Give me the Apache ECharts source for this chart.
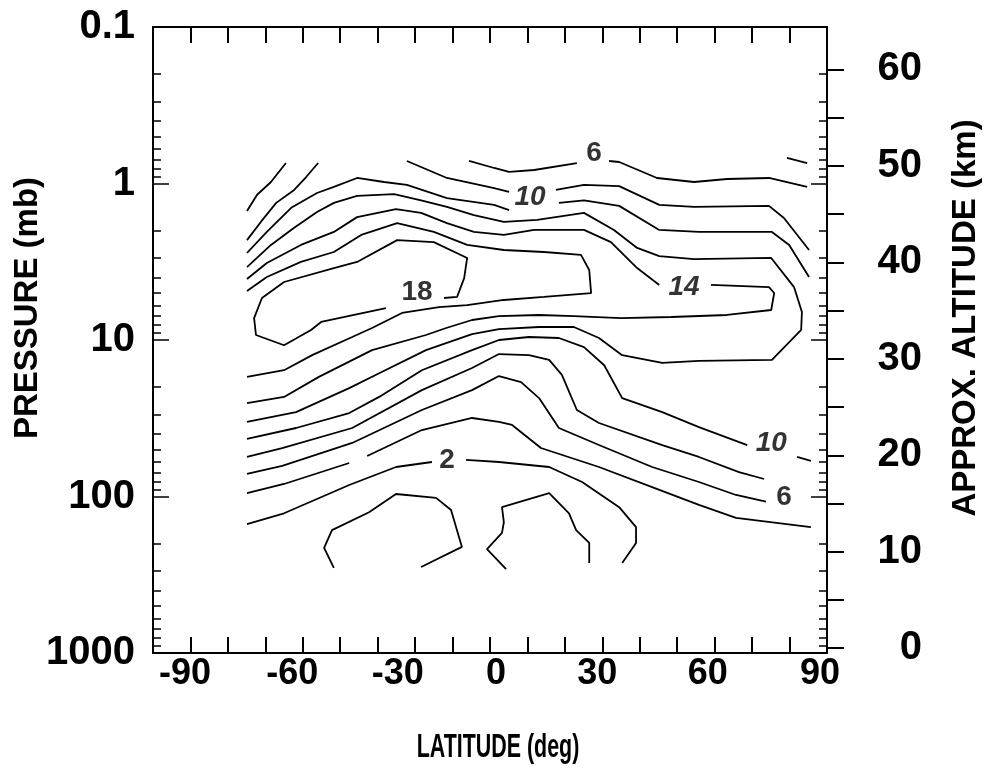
<!DOCTYPE html>
<html>
<head>
<meta charset="utf-8">
<title>Latitude / pressure contours</title>
<script src="https://cdn.jsdelivr.net/npm/echarts@6.0.0/dist/echarts.min.js"></script>
<style>
  html, body { margin: 0; padding: 0; background: #fff; }
  #chart { width: 984px; height: 775px; }
</style>
</head>
<body>
<div id="chart"></div>
<script>
// axis ticks and labels
var latLabels = [-90, -60, -30, 0, 30, 60, 90];
var altitudeLabels = [0, 10, 20, 30, 40, 50, 60];
var altitudeTicks = [0, 5, 10, 15, 20, 25, 30, 35, 40, 45, 50, 55, 60];

// contour pieces, each point is [latitude (deg), pressure (mb)]
var c4Top = [[79.3, 0.687], [84.7, 0.740]];
var c6TopLeft = [[-64.9, 1.50], [-62.2, 1.18], [-58.5, 0.978], [-54.5, 0.740]];
var c6TopA = [[-5.6, 0.718], [1.1, 0.796], [5.1, 0.844], [11.8, 0.820], [23.2, 0.740]];
var c6TopB = [[31.8, 0.718], [34.5, 0.729], [44.6, 0.922], [54.5, 0.978], [63.3, 0.936], [74.5, 0.922], [84.7, 1.05]];
var c8TopLeft = [[-64.9, 2.30], [-61.2, 1.76], [-57.1, 1.33], [-52.3, 1.10], [-49.1, 0.909], [-45.9, 0.740]];
var c8TopA = [[-22.2, 0.718], [-11.5, 0.922], [1.1, 1.07], [5.1, 1.13]];
var c8TopB = [[17.6, 1.10], [25.1, 1.02], [34.5, 1.04], [45.2, 1.37], [54.5, 1.41], [74.5, 1.39], [78.5, 1.66], [85.2, 2.66]];
var c10TopA = [[-64.9, 2.78], [-59.6, 2.04], [-53.1, 1.43], [-46.2, 1.15], [-41.7, 1.05], [-35.5, 0.922], [-28.3, 0.978],
  [-22.2, 1.02], [-11.5, 1.24], [1.1, 1.37], [5.1, 1.48]];
var c10TopB = [[18.4, 1.33], [25.1, 1.28], [34.5, 1.39], [45.2, 1.98], [55.8, 2.04], [75.3, 2.04], [79.9, 2.47], [85.2, 3.96]];
var c12 = [[-64.9, 3.42], [-58.5, 2.47], [-52.3, 1.92], [-46.2, 1.52], [-41.7, 1.33], [-35.5, 1.20], [-25.6, 1.17],
  [-18.4, 1.28], [-11.5, 1.41], [-4.3, 1.59], [3.7, 1.76], [12.6, 1.71], [25.1, 1.54], [33.1, 1.98], [39.3, 2.58],
  [45.2, 2.91], [54.5, 3.04], [75.1, 2.99], [81.2, 4.59], [83.3, 6.63], [83.1, 8.63], [75.3, 13.4], [55.8, 13.6],
  [46.0, 14.0], [35.3, 12.5], [29.1, 9.71], [22.4, 8.26], [13.1, 8.26], [2.4, 8.51], [-4.8, 9.16], [-17.1, 11.6],
  [-29.6, 16.3], [-37.6, 20.3], [-51.8, 28.9], [-64.9, 33.4]];
var c14A = [[-64.9, 4.08], [-59.6, 3.22], [-50.5, 2.47], [-41.7, 2.04], [-35.5, 1.64], [-25.1, 1.46], [-18.4, 1.54],
  [-11.5, 1.79], [-4.3, 2.04], [3.7, 2.13], [11.8, 1.98], [25.1, 1.98], [32.3, 2.37], [39.3, 3.47], [45.2, 4.45]];
var c14B = [[59.0, 4.45], [74.5, 4.59], [75.9, 5.01], [75.1, 6.43], [63.3, 6.92], [48.4, 7.13], [35.0, 7.24],
  [22.4, 7.03], [13.1, 6.92], [2.4, 7.03], [-4.8, 7.45], [-11.7, 8.38], [-17.1, 9.29], [-31.5, 11.6], [-45.7, 17.2],
  [-55.0, 23.1], [-64.9, 25.3]];
var c16 = [[-64.9, 4.87], [-59.6, 3.96], [-50.5, 3.17], [-41.7, 2.74], [-34.4, 2.13], [-24.8, 1.79], [-15.0, 2.04],
  [-6.1, 2.47], [3.7, 2.66], [14.4, 2.74], [24.3, 2.86], [26.5, 3.57], [27.0, 5.01], [14.4, 5.31], [3.7, 5.55],
  [-6.1, 5.98], [-13.6, 6.16], [-23.5, 6.72], [-31.5, 8.38], [-36.8, 9.57], [-47.5, 12.5], [-55.0, 15.6], [-64.9, 17.2]];
var c18 = [[-12.3, 5.39], [-8.8, 5.31], [-6.9, 4.02], [-6.1, 2.99], [-15.0, 2.37], [-24.8, 2.30], [-35.5, 3.17],
  [-41.7, 3.47], [-55.0, 4.26], [-60.9, 5.39], [-63.0, 7.24], [-62.5, 9.29], [-55.0, 10.8], [-47.8, 8.63],
  [-45.1, 7.67], [-27.8, 6.25]];
var c10LowA = [[-64.9, 42.9], [-51.8, 36.5], [-37.6, 29.3], [-29.6, 23.1], [-18.2, 15.6], [-4.8, 11.6], [2.4, 10.0],
  [10.4, 9.57], [18.4, 9.71], [25.1, 11.1], [30.5, 14.5], [35.3, 23.5], [46.0, 28.9], [55.8, 36.0], [68.7, 46.9]];
var c10LowB = [[82.0, 55.9], [85.7, 59.3]];
var c8Low = [[-64.9, 55.9], [-55.5, 49.0], [-36.8, 36.5], [-18.2, 20.9], [-4.8, 15.1], [2.4, 12.3], [10.4, 12.5],
  [15.8, 13.4], [19.2, 16.7], [23.2, 28.0], [29.1, 33.9], [46.0, 46.9], [55.8, 55.9], [66.5, 69.8], [73.2, 77.3]];
var c6Low = [[-64.9, 71.8], [-55.5, 63.8], [-36.8, 45.5], [-18.2, 28.0], [-4.8, 20.9], [2.4, 17.0], [8.3, 18.6],
  [13.1, 23.5], [18.4, 36.5], [29.1, 46.9], [43.3, 64.8], [55.8, 80.8], [65.7, 97.8], [73.7, 108]];
var c4LowA = [[-64.9, 95.0], [-55.0, 83.2], [-37.6, 61.1]];
var c4LowB = [[-32.8, 55.1], [-18.2, 37.6], [-4.8, 31.5], [2.4, 33.4], [5.9, 34.9], [13.6, 49.0], [29.1, 64.8],
  [43.3, 87.0], [55.8, 113], [65.7, 137], [85.7, 157]];
var c2A = [[-64.9, 150], [-55.0, 128], [-37.6, 84.4], [-25.1, 64.8], [-15.5, 60.2]];
var c2B = [[-6.4, 58.4], [2.4, 60.2], [15.8, 64.8], [24.6, 80.8], [34.5, 117], [39.0, 157], [39.0, 198], [35.3, 266]];
var cellLeft = [[-41.7, 286], [-44.3, 213], [-42.2, 164], [-32.3, 126], [-25.1, 96.4], [-14.4, 102], [-10.4, 122],
  [-7.5, 210], [-18.4, 282]];
var cellRight = [[4.3, 291], [-0.8, 217], [3.2, 171], [3.7, 146], [3.2, 117], [15.8, 95.0], [21.1, 128], [23.0, 164],
  [26.5, 198], [26.5, 266]];

// contour value labels: [text, latitude, pressure, italic]
var contourLabels = [
  ['6', 27.8, 0.638, false],
  ['10', 10.7, 1.22, true],
  ['18', -19.5, 4.94, false],
  ['14', 51.8, 4.59, true],
  ['2', -11.5, 58.4, false],
  ['10', 75.1, 45.5, true],
  ['6', 78.5, 100.7, false]
];

var pieces = [c4Top, c6TopLeft, c6TopA, c6TopB, c8TopLeft, c8TopA, c8TopB, c10TopA, c10TopB, c12, c14A, c14B,
  c16, c18, c10LowA, c10LowB, c8Low, c6Low, c4LowA, c4LowB, c2A, c2B, cellLeft, cellRight];

// minor ticks of the pressure axis, in decades (log10 mb)
var minorLogTicks = [];
for (var n = -1; n < 3; n++) {
  for (var k = 2; k <= 9; k++) minorLogTicks.push(n + Math.log10(k));
}

var numFont = "'Liberation Sans', Arial, sans-serif";
var black = '#000';

// the printed latitude labels sit a little off their ticks (px, + is right)
var latLabelShift = [32, 27, 20, 6, -5, -7, -7];
var latRich = {};
latLabelShift.forEach(function (s, i) {
  latRich['s' + i] = {
    fontFamily: numFont, fontWeight: 'bold', fontSize: 36, color: black,
    padding: s >= 0 ? [0, 0, 0, 2 * s] : [0, -2 * s, 0, 0]
  };
});

var chart = echarts.init(document.getElementById('chart'));

var series = pieces.map(function (pts) {
  return {
    type: 'line',
    xAxisIndex: 0,
    yAxisIndex: 0,
    data: pts,
    showSymbol: false,
    smooth: false,
    silent: true,
    lineStyle: { color: black, width: 1.8 }
  };
});

series.push({
  type: 'scatter',
  xAxisIndex: 0,
  yAxisIndex: 0,
  symbolSize: 1,
  itemStyle: { color: 'rgba(0,0,0,0)' },
  silent: true,
  data: contourLabels.map(function (d) {
    return {
      name: d[0],
      value: [d[1], d[2]],
      label: { fontStyle: d[3] ? 'italic' : 'normal' }
    };
  }),
  label: {
    show: true,
    position: 'inside',
    formatter: function (p) { return p.name; },
    color: black,
    fontFamily: numFont,
    fontWeight: 'bold',
    fontSize: 28
  }
});

// helper for the tick-only axes sitting on the plot frame
function tickAxis(pos, len, values) {
  return {
    type: 'value', min: -1, max: 3, inverse: true, position: pos,
    axisLine: { show: false, onZero: false },
    axisTick: { inside: true, length: len, customValues: values, lineStyle: { color: black, width: 1.5 } },
    axisLabel: { show: false },
    splitLine: { show: false }
  };
}

var option = {
  animation: false,
  backgroundColor: '#fff',
  grid: { left: 153, right: 157, top: 27, bottom: 122, containLabel: false },
  xAxis: [
    {
      type: 'value', min: -90, max: 90, interval: 10, position: 'bottom',
      axisLine: { onZero: false, lineStyle: { color: black, width: 2 } },
      axisTick: { inside: true, length: 16, lineStyle: { color: black, width: 2 } },
      axisLabel: {
        customValues: latLabels, margin: 3,
        formatter: function (v) { return '{s' + latLabels.indexOf(v) + '|' + v + '}'; },
        rich: latRich
      },
      splitLine: { show: false }
    },
    {
      type: 'value', min: -90, max: 90, interval: 10, position: 'top',
      axisLine: { onZero: false, lineStyle: { color: black, width: 2 } },
      axisTick: { inside: true, length: 16, lineStyle: { color: black, width: 2 } },
      axisLabel: { show: false },
      splitLine: { show: false }
    }
  ],
  yAxis: [
    {
      type: 'log', logBase: 10, min: 0.1, max: 1000, inverse: true, position: 'left',
      axisLine: { onZero: false, lineStyle: { color: black, width: 2 } },
      axisTick: { inside: true, length: 16, lineStyle: { color: black, width: 1.5 } },
      axisLabel: {
        formatter: function (v) { return String(v); },
        margin: 18, padding: [8, 0, 0, 0], color: black,
        fontFamily: numFont, fontWeight: 'bold', fontSize: 40
      },
      splitLine: { show: false }
    },
    tickAxis('left', 8, minorLogTicks),
    tickAxis('right', 8, minorLogTicks),
    tickAxis('right', 16, [-1, 0, 1, 2, 3]),
    {
      type: 'value', min: -0.5, max: 64.4, position: 'right',
      axisLine: { onZero: false, lineStyle: { color: black, width: 2 } },
      axisTick: { inside: false, length: 17, customValues: altitudeTicks, lineStyle: { color: black, width: 2 } },
      axisLabel: {
        customValues: altitudeLabels, align: 'right', margin: 95, color: black,
        fontFamily: numFont, fontWeight: 'bold', fontSize: 40
      },
      splitLine: { show: false }
    }
  ],
  graphic: [
    {
      type: 'text', x: 28, y: 308, rotation: Math.PI / 2,
      style: {
        text: 'PRESSURE (mb)', fill: black, fontFamily: numFont, fontWeight: 'bold', fontSize: 33,
        textAlign: 'center', textVerticalAlign: 'middle'
      }
    },
    {
      type: 'text', x: 966, y: 318, rotation: Math.PI / 2,
      style: {
        text: 'APPROX. ALTITUDE (km)', fill: black, fontFamily: numFont, fontWeight: 'bold', fontSize: 33,
        textAlign: 'center', textVerticalAlign: 'middle'
      }
    },
    {
      type: 'text', x: 498, y: 748, scaleX: 0.63,
      style: {
        text: 'LATITUDE (deg)', fill: black, fontFamily: numFont, fontWeight: 'bold', fontSize: 34,
        textAlign: 'center', textVerticalAlign: 'middle'
      }
    }
  ],
  series: series
};

chart.setOption(option);
</script>
</body>
</html>
